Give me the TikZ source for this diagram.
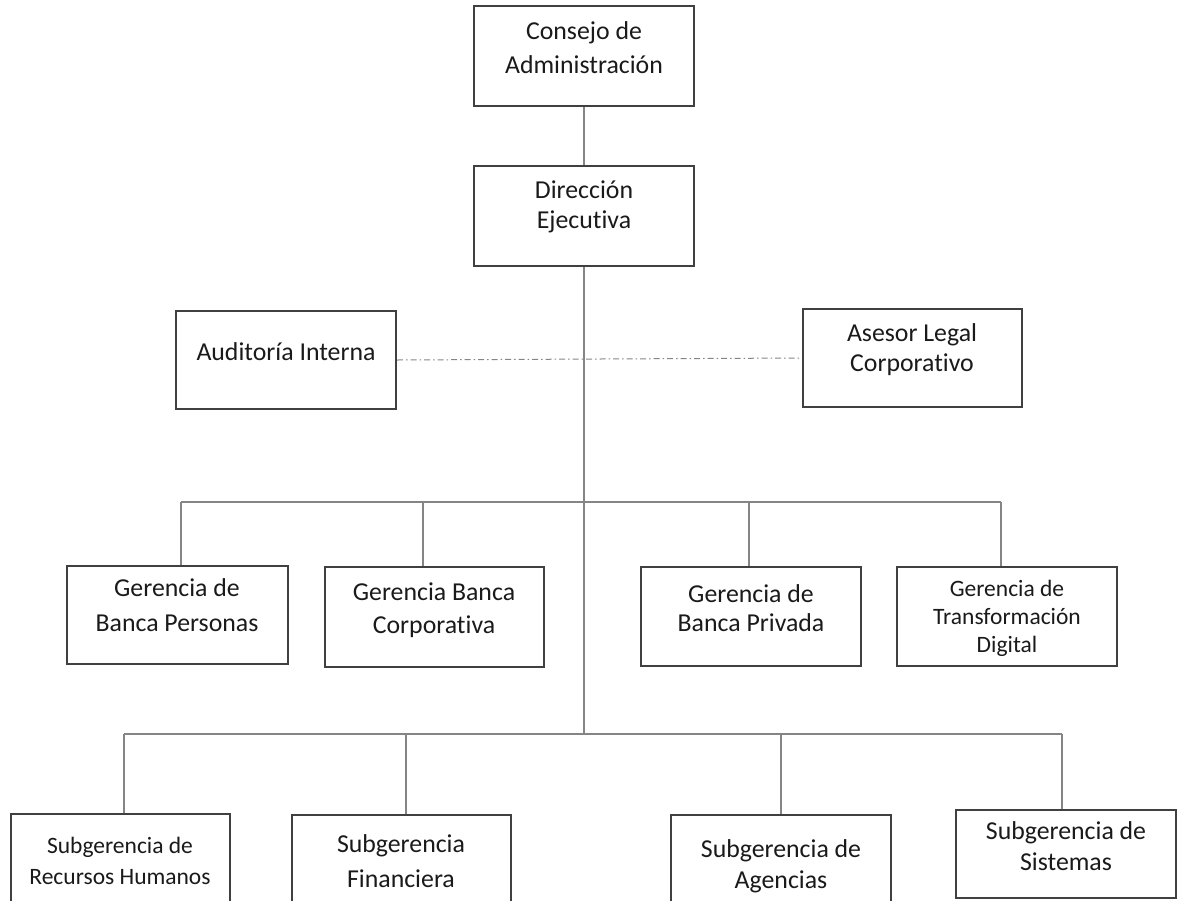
\documentclass[tikz,border=0pt]{standalone}
\usepackage{fontspec}
\setmainfont{Carlito}[Ligatures=NoCommon]
\definecolor{boxline}{HTML}{404040}
\definecolor{linkgray}{HTML}{858585}
\definecolor{inkblack}{HTML}{1A1A1A}
\begin{document}
\begin{tikzpicture}[x=1pt,y=-1pt,
  unit/.style={draw=boxline, line width=2.2pt, fill=white, inner sep=0pt,
    minimum width=220pt, minimum height=100pt},
  lbl/.style={align=center, text=inkblack, inner sep=0pt,
    font=\fontsize{25.8}{#1}\selectfont},
  lbl/.default=33,
  smalllbl/.style={align=center, text=inkblack, inner sep=0pt,
    font=\fontsize{23.5}{#1}\selectfont},
  link/.style={draw=linkgray, line width=1.4pt},
  advisory/.style={draw=linkgray, line width=1pt,
    dash pattern=on 6pt off 3pt on 1.5pt off 3pt}]

\useasboundingbox (0,0) rectangle (1178,900);
\clip (0,0) rectangle (1178,900);

% board and executive direction
\node[unit] (ca) at (584,56) {};
\node[lbl=34] (ca-t) at (584,48) {Consejo de\\Administración};
\node[unit] (de) at (584,216) {};
\node[lbl=30] (de-t) at (584,207) {Dirección\\Ejecutiva};

% staff units
\node[unit, minimum height=98pt] (ai) at (286,360) {};
\node[lbl] (ai-t) at (286,352) {Auditoría Interna};
\node[unit, minimum width=219pt, minimum height=98pt] (al) at (912.5,358) {};
\node[lbl=30] (al-t) at (912,350) {Asesor Legal\\Corporativo};

% management level
\node[unit, minimum width=221pt, minimum height=98pt] (g1) at (177.5,615) {};
\node[lbl=35] (g1-t) at (177,605) {Gerencia de\\Banca Personas};
\node[unit, minimum width=219pt] (g2) at (434.5,617) {};
\node[lbl=33] (g2-t) at (434,610) {Gerencia Banca\\Corporativa};
\node[unit, minimum height=99pt] (g3) at (751,616.5) {};
\node[lbl=29] (g3-t) at (751,608) {Gerencia de\\Banca Privada};
\node[unit, minimum height=99pt] (g4) at (1007,616.5) {};
\node[smalllbl=28] (g4-t) at (1007,618) {Gerencia de\\Transformación\\Digital};

% sub-management level
\node[unit, minimum width=219pt] (sr) at (120.5,864) {};
\node[smalllbl=31] (sr-t) at (120,861) {Subgerencia de\\Recursos Humanos};
\node[unit, minimum width=219pt] (sf) at (401.5,865) {};
\node[lbl=35] (sf-t) at (401,861) {Subgerencia\\Financiera};
\node[unit] (sa) at (781,865) {};
\node[lbl=31] (sa-t) at (781,866) {Subgerencia de\\Agencias};
\node[unit, minimum height=88pt] (ss) at (1066,854) {};
\node[lbl=31] (ss-t) at (1066,846) {Subgerencia de\\Sistemas};

% bus end points and drop points
\coordinate (gL) at (181,502);
\coordinate (gR) at (1001,502);
\coordinate (g2d) at (423,502);
\coordinate (g3d) at (749,502);
\coordinate (sL) at (124,734);
\coordinate (sR) at (1062,734);
\coordinate (sfd) at (406,734);
\coordinate (sad) at (781,734);

% connectors
\draw[link] (ca.south) -- (de.north);
\draw[link] (de.south) -- (de.south |- sL);
\draw[advisory] (ai.east) -- (al.west);

\draw[link] (gL) -- (gR);
\draw[link] (gL) -- (gL |- g1.north);
\draw[link] (g2d) -- (g2d |- g2.north);
\draw[link] (g3d) -- (g3d |- g3.north);
\draw[link] (gR) -- (gR |- g4.north);

\draw[link] (sL) -- (sR);
\draw[link] (sL) -- (sL |- sr.north);
\draw[link] (sfd) -- (sfd |- sf.north);
\draw[link] (sad) -- (sad |- sa.north);
\draw[link] (sR) -- (sR |- ss.north);
\end{tikzpicture}
\end{document}
